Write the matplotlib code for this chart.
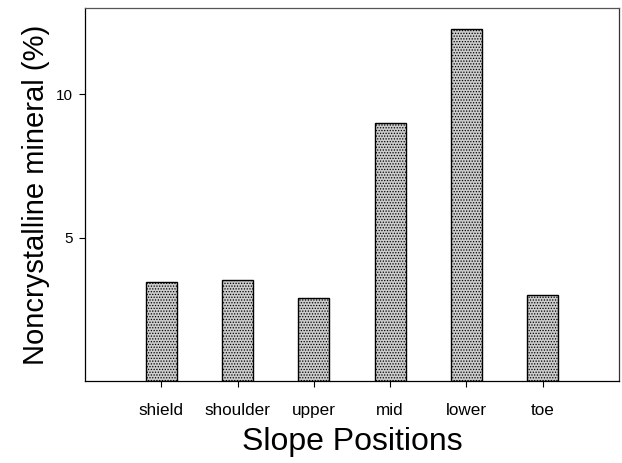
import matplotlib
matplotlib.use("Agg")
import matplotlib.pyplot as plt
import numpy as np

plt.rcParams['font.family'] = ['Liberation Sans', 'DejaVu Sans']
plt.rcParams['hatch.color'] = '#6a6a6a'
plt.rcParams['hatch.linewidth'] = 0.6

positions = ["shield", "shoulder", "upper", "mid", "lower", "toe"]
noncrystalline = [3.44, 3.53, 2.91, 8.99, 12.28, 2.99]
y_ticks = [5, 10]

fig = plt.figure(figsize=(6.22, 4.63), dpi=100)
ax = fig.add_axes([85 / 622, 1 - 381 / 463, (619 - 85) / 622, (381 - 8) / 463])

x = np.arange(len(positions))
ax.bar(x, noncrystalline, width=0.41, facecolor='#cccccc', edgecolor='black',
       linewidth=1.0, hatch='......', zorder=2)

ax.set_xlim(-1, len(positions))
ax.set_ylim(0, 13)
ax.set_xticks(x)
ax.set_xticklabels(positions, fontsize=12.3)
ax.set_yticks(y_ticks)
ax.set_yticklabels([str(v) for v in y_ticks], fontsize=11)
ax.tick_params(axis='x', direction='out', length=4, width=0.8, pad=12)
ax.tick_params(axis='y', direction='out', length=4, width=0.8, pad=5)

for side in ['top', 'right', 'left', 'bottom']:
    ax.spines[side].set_linewidth(0.9)
ax.spines['top'].set_color('#555555')
ax.spines['right'].set_color('#333333')

ax.set_xlabel("Slope Positions", fontsize=23, labelpad=6)
ax.set_ylabel("Noncrystalline mineral (%)", fontsize=21, labelpad=4)

fig.savefig("out.png", dpi=100)
